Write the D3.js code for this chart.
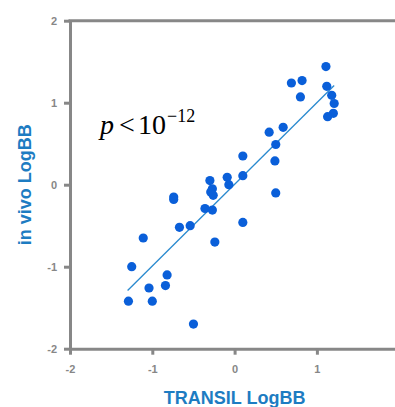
<!DOCTYPE html>
<html>
<head>
<meta charset="utf-8">
<script src="https://cdn.jsdelivr.net/npm/d3@7"></script>
<style>
  body { margin: 0; background: #ffffff; }
  svg { display: block; }
</style>
</head>
<body>
<div id="chart"></div>
<script>

// TRANSIL LogBB (x) against in vivo LogBB (y)
var transilLogBB = [1.11, 0.69, 0.82, 0.80, 1.12, 1.18, 1.21, 1.20, 1.13, 0.59,
                    0.42, 0.50, 0.49, 0.10, 0.10, -0.09, -0.07, -0.30, -0.27, -0.29,
                    -0.26, 0.50, -0.74, -0.74, -0.36, -0.27, -0.67, -0.54, 0.10, -0.24,
                    -1.11, -1.25, -0.82, -1.04, -0.84, -1.29, -1.00, -0.50];
var inVivoLogBB = [1.44, 1.24, 1.27, 1.07, 1.20, 1.09, 0.99, 0.87, 0.83, 0.70,
                   0.64, 0.49, 0.29, 0.35, 0.11, 0.09, 0.00, 0.05, -0.05, -0.09,
                   -0.13, -0.10, -0.15, -0.18, -0.29, -0.31, -0.52, -0.50, -0.46, -0.70,
                   -0.65, -1.00, -1.10, -1.26, -1.23, -1.42, -1.42, -1.70];

// ends of the fitted line
var fitX = [-1.30, 1.21];
var fitY = [-1.29, 1.21];

// tick values
var xTicks = [-2, -1, 0, 1];
var yTicks = [-2, -1, 0, 1, 2];

var width = 395,
    height = 407,
    axisColor = "#878787",
    titleColor = "#1d7cc2",
    dotColor = "#0a5fd9",
    lineColor = "#2a8acf";

var points = transilLogBB.map(function(d, i) {
  return {x: d, y: inVivoLogBB[i]};
});

var svg = d3.select("#chart")
            .append("svg")
            .attr("width", width)
            .attr("height", height);

// 82 px for one unit on both axes
var x = d3.scaleLinear()
          .domain([-2, 2])
          .range([70, 399.2]);

var y = d3.scaleLinear()
          .domain([-2, 2])
          .range([348.7, 20.7]);

var hyphen = function(d) { return String(d); };

// bottom axis
var xAxis = svg.append("g")
               .attr("transform", "translate(0," + y(-2) + ")")
               .call(d3.axisBottom(x)
                       .tickValues(xTicks)
                       .tickSize(6)
                       .tickSizeOuter(0)
                       .tickPadding(11)
                       .tickFormat(hyphen));

// left axis
var yAxis = svg.append("g")
               .attr("transform", "translate(" + x(-2) + ",0)")
               .call(d3.axisLeft(y)
                       .tickValues(yTicks)
                       .tickSize(6)
                       .tickSizeOuter(0)
                       .tickPadding(7)
                       .tickFormat(hyphen));

[xAxis, yAxis].forEach(function(g) {
  g.select(".domain")
   .attr("stroke", axisColor)
   .attr("stroke-width", 3);
  g.selectAll(".tick line")
   .attr("stroke", axisColor)
   .attr("stroke-width", 3);
  g.selectAll(".tick text")
   .attr("fill", axisColor)
   .style("font-family", "Arial, 'Liberation Sans', sans-serif")
   .style("font-size", "11px")
   .style("font-weight", "bold");
});

// top border
svg.append("line")
   .attr("x1", x(-2) - 1.5)
   .attr("x2", x(2))
   .attr("y1", y(2))
   .attr("y2", y(2))
   .attr("stroke", axisColor)
   .attr("stroke-width", 3);

// fitted line
svg.append("line")
   .attr("x1", x(fitX[0]))
   .attr("y1", y(fitY[0]))
   .attr("x2", x(fitX[1]))
   .attr("y2", y(fitY[1]))
   .attr("stroke", lineColor)
   .attr("stroke-width", 1.3);

// data points
svg.selectAll(".dot")
   .data(points)
   .enter()
   .append("circle")
   .attr("class", "dot")
   .attr("cx", function(d) { return x(d.x); })
   .attr("cy", function(d) { return y(d.y); })
   .attr("r", 4.6)
   .attr("fill", dotColor);

// axis titles
svg.append("text")
   .attr("x", x(0))
   .attr("y", 404)
   .attr("text-anchor", "middle")
   .attr("fill", titleColor)
   .style("font-family", "Arial, 'Liberation Sans', sans-serif")
   .style("font-size", "18px")
   .style("font-weight", "bold")
   .text("TRANSIL LogBB");

svg.append("text")
   .attr("transform", "translate(31," + y(0) + ") rotate(-90)")
   .attr("text-anchor", "middle")
   .attr("fill", titleColor)
   .style("font-family", "Arial, 'Liberation Sans', sans-serif")
   .style("font-size", "18px")
   .style("font-weight", "bold")
   .text("in vivo LogBB");

// p value annotation
var pText = svg.append("text")
               .attr("y", 134)
               .attr("fill", "#000000")
               .style("font-family", "'Times New Roman', 'Liberation Serif', serif")
               .style("font-size", "28px");

pText.append("tspan")
     .attr("x", 100)
     .style("font-style", "italic")
     .text("p");
pText.append("tspan")
     .attr("x", 119)
     .text("<");
pText.append("tspan")
     .attr("x", 138)
     .text("10");
pText.append("tspan")
     .attr("x", 167)
     .attr("dy", -12)
     .style("font-size", "18px")
     .text("\u221212");

</script>
</body>
</html>
